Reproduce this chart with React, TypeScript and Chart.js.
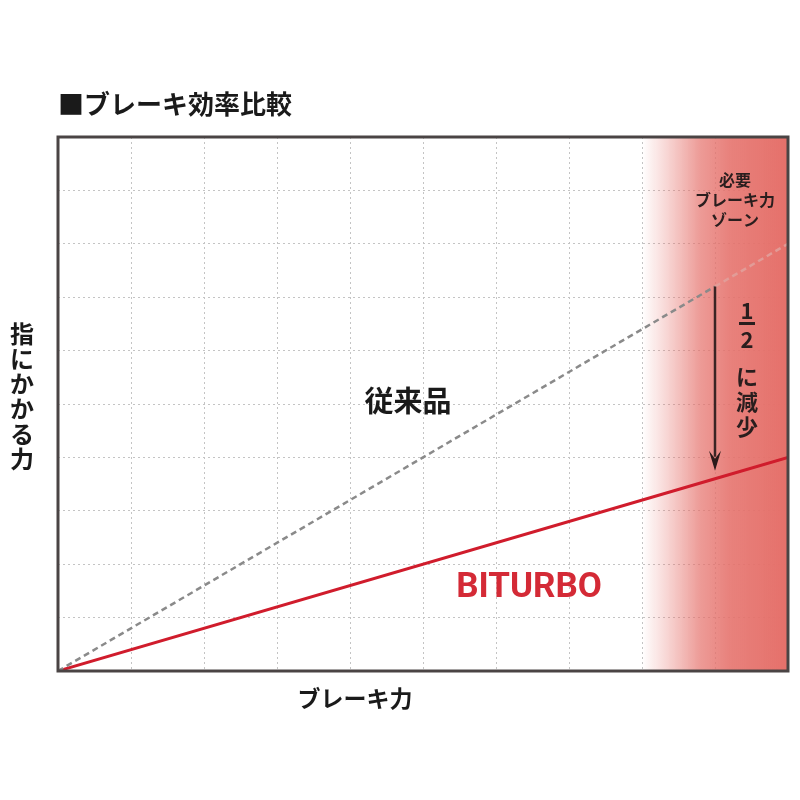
import React, { useEffect, useRef } from "react";
import { Chart, registerables } from "chart.js";

Chart.register(...registerables);

// Data
const brakeForce = [0, 9, 10];
const conventional = [0, 7.2, 8];
const biturbo = [0, 3.6, 4];
const zoneStart = 8;
const zoneEnd = 10;
const arrowX = 9;
const arrowFrom = 7.2;
const arrowTo = 3.75;

const titleText = "■ブレーキ効率比較";
const yLabel = ["指", "に", "か", "か", "る", "力"];
const xLabel = "ブレーキ力";
const conventionalLabel = "従来品";
const biturboLabel = "BITURBO";
const zoneLabel = ["必要", "ブレーキ力", "ゾーン"];
const reduceLabel = ["に", "減", "少"];

const JP = '"Noto Sans CJK JP", "Noto Sans", sans-serif';

const zonePlugin = {
  id: "zone",
  beforeDatasetsDraw(chart: any) {
    const { ctx, chartArea, scales } = chart;
    const x0 = scales.x.getPixelForValue(zoneStart);
    const x1 = scales.x.getPixelForValue(zoneEnd);
    const g = ctx.createLinearGradient(x0, 0, x1, 0);
    g.addColorStop(0, "rgba(229,112,106,0)");
    g.addColorStop(0.15, "rgba(229,112,106,0.25)");
    g.addColorStop(0.4, "rgba(229,112,106,0.7)");
    g.addColorStop(0.6, "rgba(229,112,106,0.88)");
    g.addColorStop(1, "rgba(229,112,106,1)");
    ctx.save();
    ctx.fillStyle = g;
    ctx.fillRect(x0, chartArea.top, x1 - x0, chartArea.bottom - chartArea.top);
    ctx.restore();
  },
};

const decorPlugin = {
  id: "decor",
  afterDraw(chart: any) {
    const { ctx, chartArea, scales } = chart;
    ctx.save();
    // border
    ctx.strokeStyle = "#4a4444";
    ctx.lineWidth = 3;
    ctx.strokeRect(chartArea.left, chartArea.top, chartArea.right - chartArea.left, chartArea.bottom - chartArea.top);

    // arrow
    const ax = scales.x.getPixelForValue(arrowX);
    const ay0 = scales.y.getPixelForValue(arrowFrom);
    const ay1 = scales.y.getPixelForValue(arrowTo);
    ctx.strokeStyle = "#3a2424";
    ctx.fillStyle = "#2a1a1a";
    ctx.lineWidth = 2.5;
    ctx.beginPath();
    ctx.moveTo(ax, ay0);
    ctx.lineTo(ax, ay1 - 14);
    ctx.stroke();
    ctx.beginPath();
    ctx.moveTo(ax - 6, ay1 - 20);
    ctx.lineTo(ax, ay1 - 12);
    ctx.lineTo(ax + 6, ay1 - 20);
    ctx.lineTo(ax, ay1);
    ctx.closePath();
    ctx.fill();

    // texts
    ctx.textAlign = "left";
    ctx.textBaseline = "middle";
    ctx.fillStyle = "#1a1a1a";
    ctx.font = `bold 26px ${JP}`;
    ctx.fillText(titleText, 58, 104);

    ctx.textAlign = "center";
    ctx.font = `bold 24px ${JP}`;
    yLabel.forEach((c, i) => ctx.fillText(c, 22, 334 + i * 25));

    ctx.font = `bold 23px ${JP}`;
    ctx.fillText(xLabel, 355, 698);

    ctx.font = `bold 29px ${JP}`;
    ctx.fillText(conventionalLabel, 408, 401);

    ctx.fillStyle = "#d42a36";
    ctx.font = `bold 35px Roboto, sans-serif`;
    ctx.fillText(biturboLabel, 529, 588);

    ctx.fillStyle = "#2a1e1e";
    ctx.font = `bold 16px ${JP}`;
    zoneLabel.forEach((c, i) => ctx.fillText(c, 735, 180 + i * 20));

    // 1/2 に減少
    const tx = 747;
    ctx.font = `bold 22px ${JP}`;
    ctx.fillText("1", tx, 311);
    ctx.fillRect(tx - 8, 322, 16, 3);
    ctx.fillText("2", tx, 340);
    reduceLabel.forEach((c, i) => ctx.fillText(c, tx, 377 + i * 25));
    ctx.restore();
  },
};

export default function App() {
  const ref = useRef<HTMLCanvasElement>(null);
  useEffect(() => {
    if (!ref.current) return;
    const chart = new Chart(ref.current, {
      type: "line",
      data: {
        datasets: [
          {
            label: conventionalLabel,
            data: brakeForce.map((x, i) => ({ x, y: conventional[i] })),
            borderColor: "#8a8a8a",
            borderWidth: 2.5,
            borderDash: [6, 4],
            pointRadius: 0,
            segment: {
              borderColor: (c: any) => (c.p0.parsed.x >= arrowX ? "rgba(225,160,155,0.9)" : undefined),
            },
          },
          {
            label: biturboLabel,
            data: brakeForce.map((x, i) => ({ x, y: biturbo[i] })),
            borderColor: "#d01c2c",
            borderWidth: 3,
            pointRadius: 0,
          },
        ],
      },
      options: {
        animation: false,
        responsive: false,
        maintainAspectRatio: false,
        layout: { padding: { left: 58, top: 137, right: 12, bottom: 129 } },
        plugins: { legend: { display: false }, tooltip: { enabled: false } },
        scales: {
          x: {
            type: "linear",
            min: 0,
            max: 10,
            ticks: { display: false, stepSize: 1 },
            border: { display: false },
            grid: { color: "#c4c4c4", lineWidth: 1, drawTicks: false, tickLength: 0 },
          },
          y: {
            type: "linear",
            min: 0,
            max: 10,
            ticks: { display: false, stepSize: 1 },
            border: { display: false },
            grid: { color: "#c4c4c4", lineWidth: 1, drawTicks: false, tickLength: 0 },
          },
        },
      },
      plugins: [zonePlugin, decorPlugin],
    });
    // dashed grid
    (chart.options.scales as any).x.border.dash = [2, 3];
    (chart.options.scales as any).y.border.dash = [2, 3];
    chart.update();
    return () => chart.destroy();
  }, []);
  return (
    <div style={{ position: "fixed", left: 0, top: 0, width: 800, height: 800, background: "#fff" }}>
      <canvas ref={ref} width={800} height={800} style={{ width: 800, height: 800 }} />
    </div>
  );
}
